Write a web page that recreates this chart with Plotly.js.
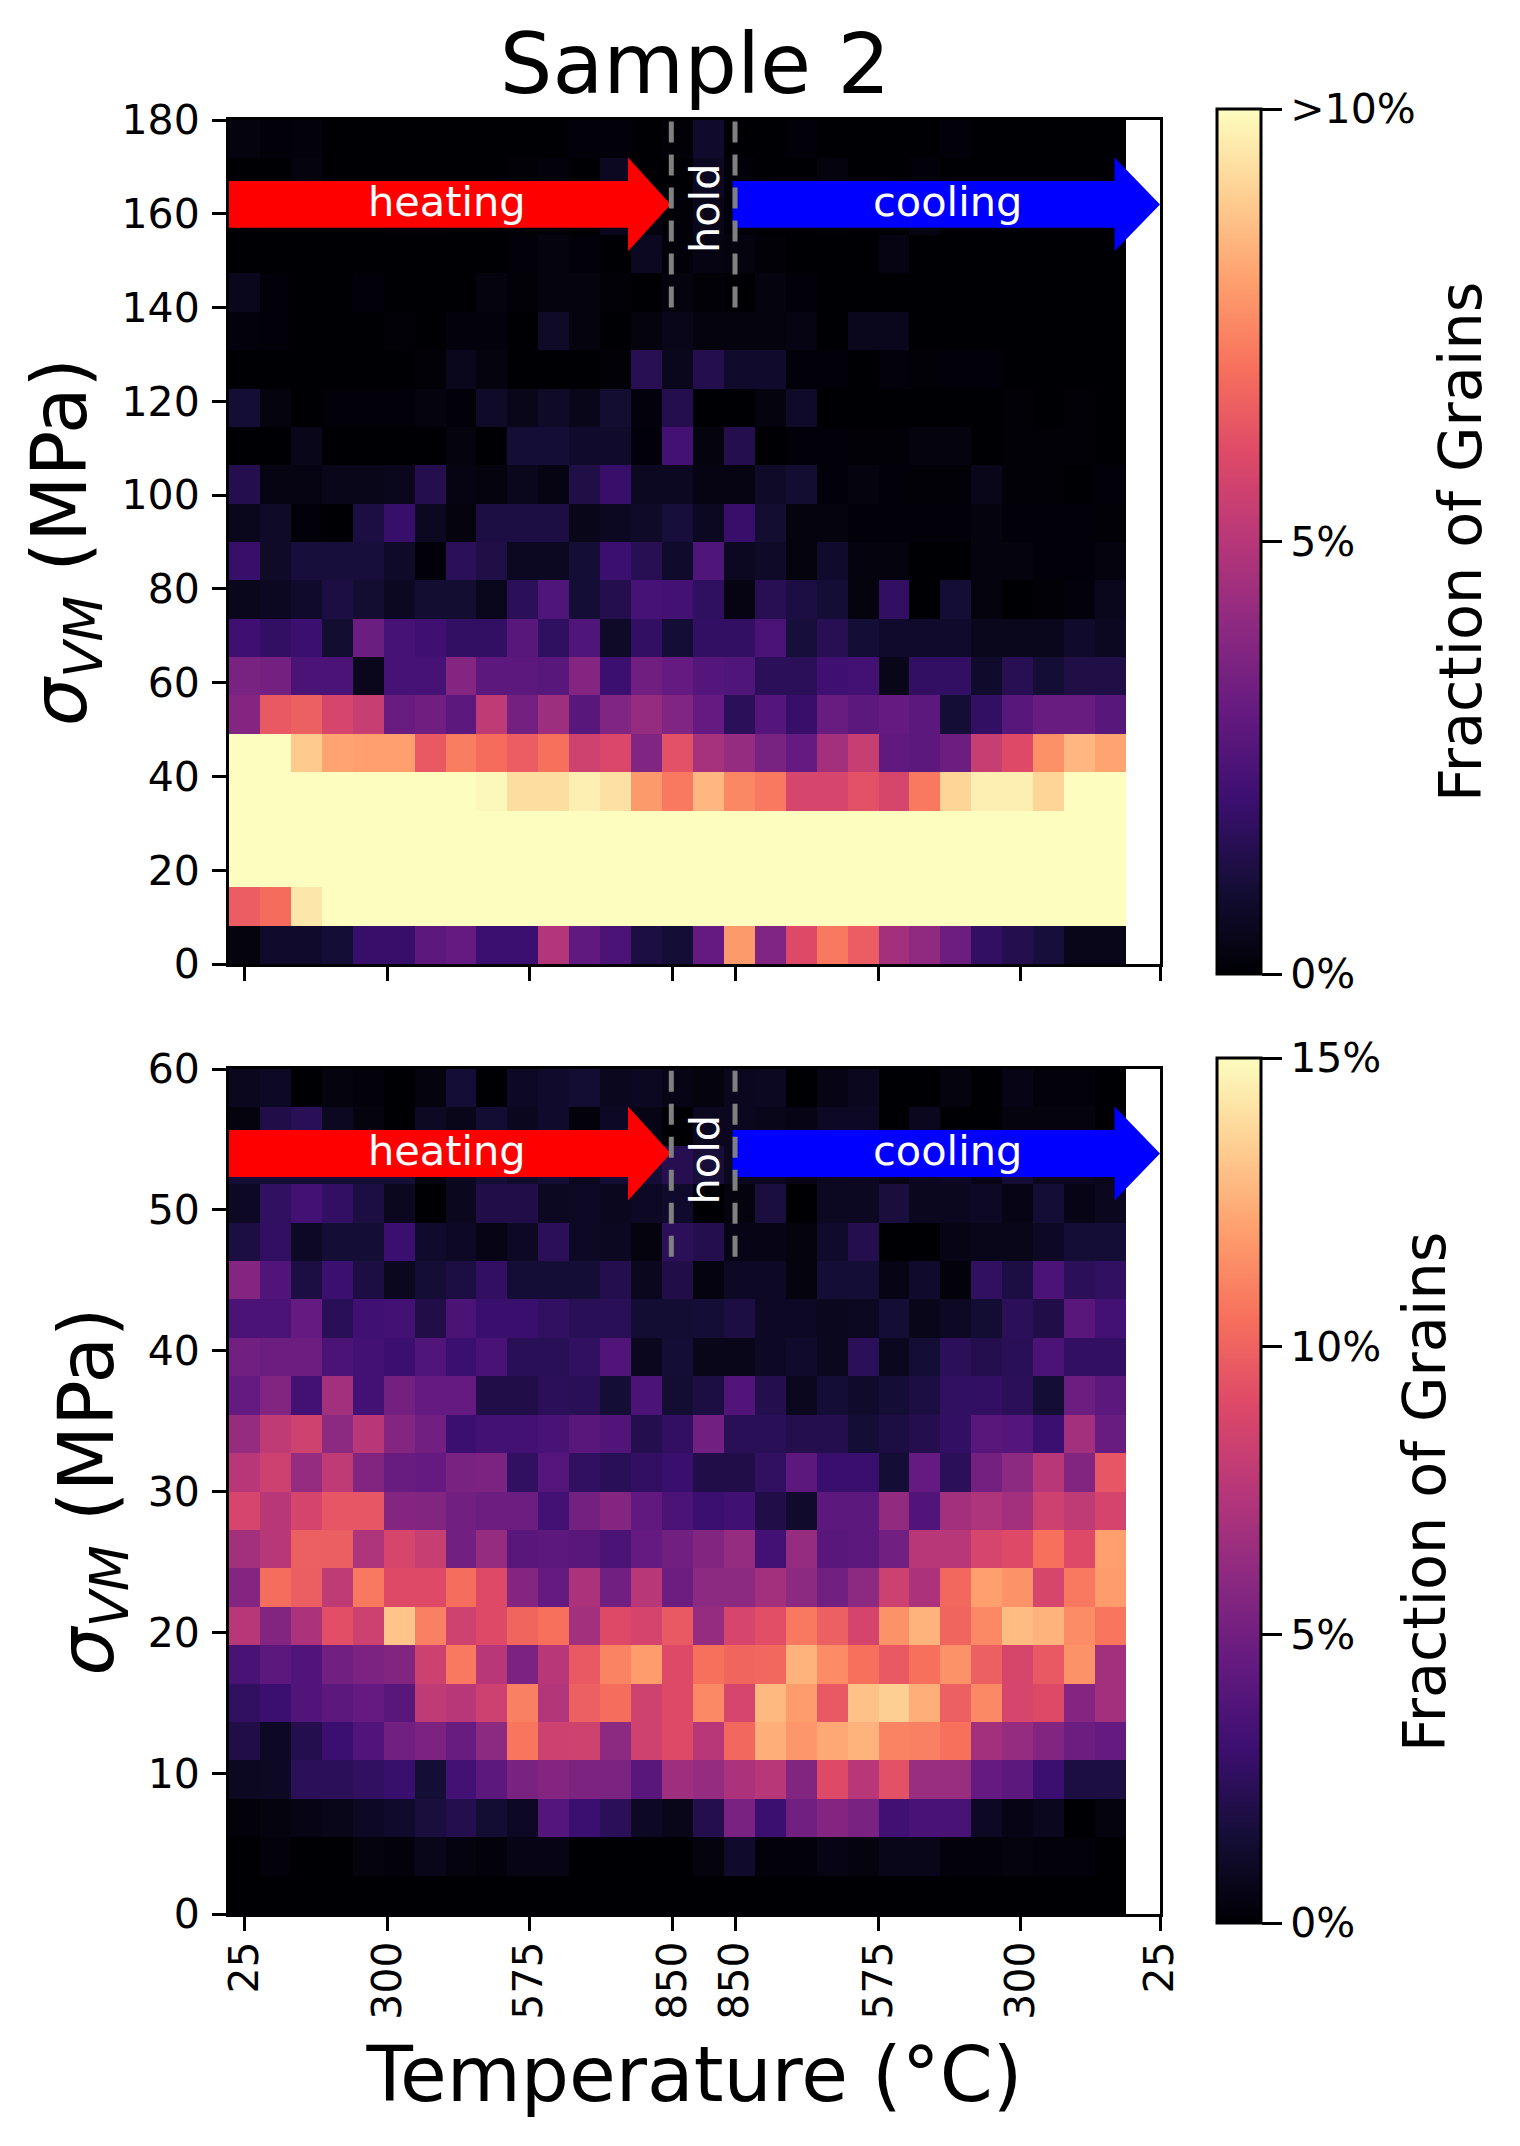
<!DOCTYPE html>
<html>
<head>
<meta charset="utf-8">
<script src="https://cdn.plot.ly/plotly-3.0.1.min.js"></script>
<style>body{margin:0;background:#fff}</style>
</head>
<body>
<div id="myDiv"></div>
<script>
// rows run from the top of each panel down to the bottom, values in percent of grains
let stressRowsTop = [
  [.2,.1,.15,0,0,0,0,0,0,0,0,.1,.1,0,.05,.8,0,0,.1,0,0,0,0,.1,0,0,0,0,0],
  [0,0,.2,0,0,0,0,0,0,.05,.15,0,.6,0,0,.6,.1,0,0,.2,0,0,.1,0,0,0,0,0,0],
  [0,0,0,0,0,.05,.05,0,0,.05,.1,0,.5,.2,.1,.4,.1,0,0,.05,0,.05,.3,0,0,0,0,0,0],
  [0,0,0,0,0,0,0,0,0,.1,.2,.1,0,.6,.1,.3,.2,.05,0,0,0,.3,0,0,0,0,0,0,0],
  [.5,.1,0,0,.1,0,0,0,.2,.05,.2,.2,.05,0,.2,.05,0,.2,.1,0,0,0,0,0,0,0,0,0,0],
  [.15,.1,0,0,0,.05,0,.15,.15,0,.7,.2,0,.2,.4,.2,.2,.2,.3,0,.5,.5,0,0,0,0,0,0,0],
  [0,0,0,0,0,0,.05,.5,.2,0,0,0,.05,1.5,.5,1.4,.8,.8,.1,.1,0,.15,.05,.1,.1,0,0,0,0],
  [1,.2,0,.1,.1,.1,.2,.1,.7,.4,.7,.4,.9,.15,1.4,0,0,.2,.7,0,0,0,0,0,0,.05,0,.05,0],
  [0,0,.4,0,0,0,0,.2,0,1,1,.8,.8,.1,2.2,.2,1.4,0,.1,.1,.05,.05,.2,.2,0,.05,.05,.05,0],
  [1.4,.3,.3,.4,.4,.5,1.4,.3,.2,.5,.3,1.3,1.9,.6,.6,.3,.3,.7,.9,.1,.2,.1,.05,.05,.4,.05,.05,0,.1],
  [.5,.7,.1,0,1.2,1.9,.6,.2,1.2,1.2,1.2,.4,.6,.7,1.1,.6,1.9,.9,.2,.2,.1,.1,.1,.1,.2,.1,.1,.1,.05],
  [1.9,.7,1.1,1.1,1.1,.7,.1,1.6,1.3,.6,.6,1,2,1.5,.8,2.5,.6,.7,.2,.8,.2,.2,0,0,.2,.2,.1,.1,.2],
  [.5,.6,.8,1.2,.9,.6,.9,.9,.5,1.6,2.5,1,1.4,2.3,2.2,1.7,.3,1.5,1.2,1,.2,1.8,0,1,.2,0,.05,.15,.5],
  [2.1,1.8,2,.9,3.2,2.3,2.1,1.8,1.8,2.7,1.7,2.5,.7,1.8,1,1.8,1.8,2.4,1.1,1.5,1,.8,.8,.8,.5,.5,.5,.8,.6],
  [3.5,3.4,2.4,2.4,.5,2.3,2.3,3.8,2.8,2.8,2.7,3.8,2,3.3,3,2.6,2.5,1.6,1.6,2.1,2.2,.4,1.8,1.8,.8,1.5,1,1.3,1.3],
  [3.8,6.4,6.6,5.8,5.4,3.1,3.3,2.8,5.2,3.4,4.4,2.7,3.7,4.2,3.7,3,1.6,2.6,1.9,3.1,2.8,3,2.8,1,1.8,2.7,3.1,3.1,2.7],
  [10,10,8.9,8.1,8,8,6.4,7.3,6.9,6.5,7,5.6,5.9,3.7,6.2,4.6,4.2,3.5,3,4.5,5.4,2.9,2.8,3.2,5.4,6,7.7,8.5,8.1],
  [10,10,10,10,10,10,10,10,9.9,9.3,9.3,9.7,9.4,7.9,7.2,8.5,7.5,7.2,5.8,5.8,6.2,5.8,7.2,9.1,9.7,9.7,9.1,10,10],
  [10,10,10,10,10,10,10,10,10,10,10,10,10,10,10,10,10,10,10,10,10,10,10,10,10,10,10,10,10],
  [10,10,10,10,10,10,10,10,10,10,10,10,10,10,10,10,10,10,10,10,10,10,10,10,10,10,10,10,10],
  [6.5,6.9,9.5,10,10,10,10,10,10,10,10,10,10,10,10,10,10,10,10,10,10,10,10,10,10,10,10,10,10],
  [.2,.8,.8,1,1.9,1.9,2.8,3,2,2,4.9,2.9,2.4,1.2,1,3,7.9,3.7,6,7.2,6.5,4.5,4.1,3.2,1.8,1.4,1.1,.4,.4]
];
let stressRowsBottom = [
  [.8,1,0,.3,.2,0,.3,1.5,0,1,1.2,1.4,.8,.9,.5,.3,.8,.9,0,.5,.8,0,0,.3,0,.5,.2,.2,0],
  [.3,2,2.3,.9,.3,0,1,.6,1.4,.8,1.2,.2,1,.5,0,.8,.8,.6,.5,1,1,0,.8,0,0,.3,.3,.3,0],
  [1.5,1.5,1.5,1.5,1.5,1.5,.3,.9,1.5,1.2,1.5,.8,1.5,1.5,2.2,1.6,.8,.8,.5,.8,.9,.5,.8,1,.5,1.5,.8,.8,.6],
  [1,2.6,3.3,2.7,1.8,.8,0,.8,2,2,.9,1,.8,1,1.2,0,.3,1.7,0,.9,.9,1.7,.8,.8,1,.5,1.5,.5,.8],
  [1.8,2.7,1,1.5,1.5,3,1.2,1,.5,1,2.4,1,.9,.3,2.4,2.1,.5,.5,.3,1.2,2.1,0,0,.5,.6,.6,1,1.5,1.5],
  [5.7,3.8,1.8,3,1.8,.8,1.5,1.8,2.7,1.5,1.5,1.5,2.1,.8,2,.3,1,1,.3,1.5,1.5,.5,1.2,.2,2.6,1.8,3.6,2.4,2.6],
  [3.6,3.6,4.5,2.3,3.2,3.3,2,3.6,2.9,2.9,2.6,2.3,2.3,1.4,1.4,1.5,1.8,1,1,.8,.9,1.5,.6,1,1.4,2.4,2,4.1,3.3],
  [5,4.8,4.8,3.6,3.3,3,3.8,3,3.5,2.3,2.3,2.6,3.8,.8,1.5,.6,.6,1,1.2,.8,2.4,.8,1.5,2.4,2.1,2.3,3.6,2.7,2.7],
  [4.5,5.6,3.3,6.8,3.3,5.1,4.5,4.5,2,2,2.4,2.3,1.5,3.6,1.4,1.8,3.8,2.1,.8,1.5,1.2,1.5,1.8,2.6,2.7,2.4,1.5,4.8,4.2],
  [6.3,7.8,8.4,6,7.5,5.7,5,3,3.3,3.3,3.5,4.1,3.8,2.1,2.7,5,2.3,2.3,2.1,2.1,1.5,1.8,2.1,2.7,4.1,3.9,3,6.8,4.7],
  [7.5,8.3,6.3,7.8,5.6,4.7,4.5,5.3,5.4,2.6,3.9,2.6,2.3,2.7,2.9,2,2,2.6,4.2,2.9,2.9,1.5,4.5,2.4,5.1,6,7.5,5.6,9.5],
  [8.7,7.5,8.6,9.5,9.5,5.7,5.6,5,4.8,4.8,3.3,5.1,5.7,4.4,3.6,3,3.2,2,1.2,4.2,4.2,6.2,3.8,6.8,7.2,6.8,8.3,7.8,8.6],
  [6.8,7.5,9.9,9.8,7.2,8.7,8.1,5,6.3,4.1,4.2,4.1,3.6,4.5,5,5.6,6.3,3.3,6.3,4.1,4.2,5,7.5,7.5,8.7,9,10.5,9,12],
  [5.7,10.4,9.8,7.8,10.8,9,9,10.4,9,5.7,4.5,7.1,5,7.5,4.8,6,6,6.8,6,5,6,8.3,7.1,10.2,12,11.6,8.7,10.8,11.9],
  [7.5,5.6,7.1,9.2,8.3,13.2,11,8.4,9,10.1,10.5,6.8,9,8.6,9.6,6.3,8.7,9.2,10.8,9.9,8.6,11.6,12.6,10.1,11.3,12.9,12.6,11.4,10.7],
  [3.5,4.2,3.8,5,5.4,5.6,8.3,10.8,7.5,5.4,7.5,9.6,11.1,11.9,9,10.5,10.1,10.2,12.6,11.4,10.5,9.6,10.5,11.6,9.9,8.7,9.6,11.6,6.8],
  [2.6,3,3.8,4.2,4.5,4.1,7.8,7.5,8.3,11,7.4,9.9,10.4,8.4,9,11.3,8.7,12.8,11.9,9.6,13.1,13.5,12.5,9.9,11.3,8.7,9,5.7,6.8],
  [2,1,2.1,3,3.8,5,5.4,4.7,6,10.7,8.3,8.4,6,8.4,9,7.5,10.2,12.5,11.7,12.3,12.6,11.1,11,10.5,6.8,6.3,5.6,4.8,4.5],
  [.9,1,2.4,2.4,2.6,2.9,1.5,3.3,4.2,5.3,5.7,5.4,5.4,4.1,6.6,6.3,7.1,7.5,5.6,9,7.5,9.3,6.5,6.5,4.5,4.2,3,1.8,1.8],
  [.2,.3,.5,.6,1,1.2,1.7,2.1,1.4,1,3.9,3,2.4,1,.6,2.1,5.3,3,5,5.7,5.3,3.2,3.5,3.5,1,.5,.8,0,.3],
  [0,.2,0,0,.3,.2,.6,.3,.2,.5,.5,0,0,0,0,.3,1.2,.2,.2,.5,.3,.6,.6,.2,.2,.3,.2,.2,0],
  [0,0,0,0,0,0,0,0,0,0,0,0,0,0,0,0,0,0,0,0,0,0,0,0,0,0,0,0,0]
];

let tempTickPos = [0, 4.62, 9.2, 13.84, 15.86, 20.5, 25.1, 29.6];
let tempTickText = ['25', '300', '575', '850', '850', '575', '300', '25'];
let stressTicksTop = [0, 20, 40, 60, 80, 100, 120, 140, 160, 180];
let stressTicksBottom = [0, 10, 20, 30, 40, 50, 60];
let fractionTicksTop = [0, 5, 10];
let fractionTextTop = ['0%', '5%', '>10%'];
let fractionTicksBottom = [0, 5, 10, 15];
let fractionTextBottom = ['0%', '5%', '10%', '15%'];

let magma = [[0,'#000004'],[.1,'#140e36'],[.2,'#3b0f70'],[.3,'#641a80'],[.4,'#8c2981'],[.5,'#b73779'],
  [.6,'#de4968'],[.7,'#f7705c'],[.8,'#fe9f6d'],[.9,'#fecf92'],[1,'#fcfdbf']];

let W = 1520, H = 2146;
let fontName = '"DejaVu Sans", sans-serif';
let tickSize = 41;
let left = 229, right = 1160;
let xMin = -0.5, xMax = 29.6;

function yDomain(top, bottom) { return [1 - bottom / H, 1 - top / H]; }

function bar(top, bottom, vals, text) {
  return {
    x: 1217 / W, xanchor: 'left', xpad: 0,
    y: 1 - (top + bottom) / 2 / H, yanchor: 'middle', ypad: 0,
    thickness: 44, thicknessmode: 'pixels',
    len: bottom - top, lenmode: 'pixels',
    outlinewidth: 3, outlinecolor: '#000',
    ticks: 'outside', ticklen: 20, tickwidth: 3, tickcolor: '#000',
    tickmode: 'array', tickvals: vals, ticktext: text,
    tickfont: {family: fontName, size: tickSize, color: '#000'}
  };
}

let data = [
  {
    type: 'heatmap', z: stressRowsTop.slice().reverse(),
    x0: 0, dx: 1, y0: 90 / 22, dy: 180 / 22,
    zmin: 0, zmax: 10, colorscale: magma, xaxis: 'x', yaxis: 'y',
    colorbar: bar(109, 974, fractionTicksTop, fractionTextTop)
  },
  {
    type: 'heatmap', z: stressRowsBottom.slice().reverse(),
    x0: 0, dx: 1, y0: 30 / 22, dy: 60 / 22,
    zmin: 0, zmax: 15, colorscale: magma, xaxis: 'x2', yaxis: 'y2',
    colorbar: bar(1058, 1923, fractionTicksBottom, fractionTextBottom)
  }
];

function xAxis(anchor, showLabels) {
  return {
    domain: [left / W, right / W], anchor: anchor, range: [xMin, xMax],
    showgrid: false, zeroline: false, showline: true, mirror: true, linecolor: '#000', linewidth: 3,
    ticks: 'outside', ticklen: 14, tickwidth: 3, tickcolor: '#000',
    tickmode: 'array', tickvals: tempTickPos, ticktext: tempTickText,
    showticklabels: showLabels, tickangle: -90, ticklabelstandoff: -6,
    tickfont: {family: fontName, size: tickSize, color: '#000'}
  };
}

function yAxis(anchor, top, bottom, yMax, ticks, standoff) {
  return {
    domain: yDomain(top, bottom), anchor: anchor, range: [0, yMax],
    showgrid: false, zeroline: false, showline: true, mirror: true, linecolor: '#000', linewidth: 3,
    ticks: 'outside', ticklen: 14, tickwidth: 3, tickcolor: '#000',
    tickmode: 'array', tickvals: ticks, ticklabelstandoff: 4,
    tickfont: {family: fontName, size: tickSize, color: '#000'},
    title: {text: '<i>σ<sub>VM</sub></i> (MPa)', standoff: standoff, font: {family: fontName, size: 76, color: '#000'}}
  };
}

// heating / cooling arrows, hold markers and their labels, per panel
function arrow(xa, ya, x0, xHead, xTip, yMid, half, color) {
  let path = 'M' + x0 + ',' + (yMid - half) + ' L' + xHead + ',' + (yMid - half) +
    ' L' + xHead + ',' + (yMid - 2 * half) + ' L' + xTip + ',' + yMid +
    ' L' + xHead + ',' + (yMid + 2 * half) + ' L' + xHead + ',' + (yMid + half) +
    ' L' + x0 + ',' + (yMid + half) + ' Z';
  return {type: 'path', xref: xa, yref: ya, path: path, fillcolor: color, line: {width: 0}, layer: 'above'};
}

function holdLine(xa, ya, x, y0, y1) {
  return {type: 'line', xref: xa, yref: ya, x0: x, x1: x, y0: y0, y1: y1, layer: 'above',
    line: {color: 'gray', width: 5, dash: '21px,12px'}};
}

function phaseLabel(xa, ya, x, y, text, angle) {
  return {xref: xa, yref: ya, x: x, y: y, text: text, showarrow: false, textangle: angle,
    yshift: angle ? 0 : 3,
    font: {family: fontName, size: 41.5, color: '#fff'}};
}

function fractionTitle(x, y) {
  return {xref: 'paper', yref: 'paper', x: x / W, y: 1 - y / H, text: 'Fraction of Grains',
    showarrow: false, textangle: -90, xanchor: 'center', yanchor: 'middle',
    font: {family: fontName, size: 59, color: '#000'}};
}

function panelMarks(xa, ya, yMid, half, holdBottom, holdTop) {
  return [
    arrow(xa, ya, -0.5, 12.4, 13.78, yMid, half, '#ff0000'),
    arrow(xa, ya, 15.78, 28.13, 29.6, yMid, half, '#0000ff'),
    holdLine(xa, ya, 13.8, holdBottom, holdTop),
    holdLine(xa, ya, 15.86, holdBottom, holdTop)
  ];
}

let layout = {
  width: W, height: H,
  margin: {l: 0, r: 0, t: 0, b: 0, autoexpand: false},
  paper_bgcolor: '#fff', plot_bgcolor: '#fff',
  font: {family: fontName, color: '#000'},
  title: {text: 'Sample 2', x: 695 / W, xanchor: 'center', y: 1 - 64 / H, yanchor: 'middle', yref: 'container',
    font: {family: fontName, size: 83, color: '#000'}},
  xaxis: xAxis('y', false),
  yaxis: yAxis('x', 120, 964, 180, stressTicksTop, 10),
  xaxis2: Object.assign(xAxis('y2', true), {
    title: {text: 'Temperature (°C)', standoff: 30, font: {family: fontName, size: 76, color: '#000'}}
  }),
  yaxis2: yAxis('x2', 1069, 1914, 60, stressTicksBottom, 10),
  shapes: panelMarks('x', 'y', 162, 5, 140, 180).concat(panelMarks('x2', 'y2', 54, 5 / 3, 140 / 3, 60)),
  annotations: [
    phaseLabel('x', 'y', 6.55, 162, 'heating', 0),
    phaseLabel('x', 'y', 22.72, 162, 'cooling', 0),
    phaseLabel('x', 'y', 14.87, 161.3, 'hold', -90),
    phaseLabel('x2', 'y2', 6.55, 54, 'heating', 0),
    phaseLabel('x2', 'y2', 22.72, 54, 'cooling', 0),
    phaseLabel('x2', 'y2', 14.87, 53.6, 'hold', -90),
    fractionTitle(1460, 542),
    fractionTitle(1424, 1492)
  ]
};

Plotly.newPlot('myDiv', data, layout, {displayModeBar: false, responsive: false});
</script>
</body>
</html>
